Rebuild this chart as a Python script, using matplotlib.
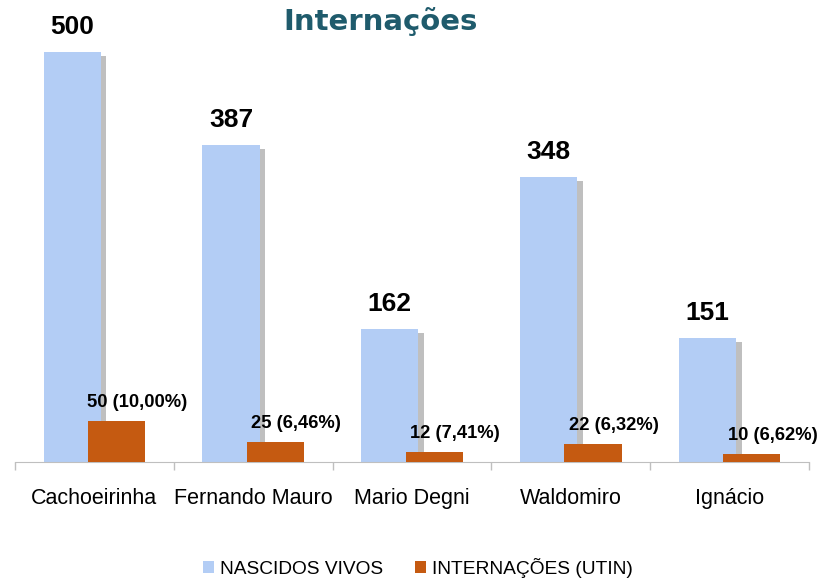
import numpy as np
import matplotlib
matplotlib.use("Agg")
import matplotlib.pyplot as plt
import matplotlib.patheffects as pe
from matplotlib.ticker import FixedLocator

unidades = ["Cachoeirinha", "Fernando Mauro", "Mario Degni", "Waldomiro", "Ignácio"]
nascidos_vivos = [500, 387, 162, 348, 151]
internacoes = [50, 25, 12, 22, 10]
rotulos_internacoes = ["50 (10,00%)", "25 (6,46%)", "12 (7,41%)", "22 (6,32%)", "10 (6,62%)"]

AZUL = "#b3cdf5"
LARANJA = "#c55a11"
CINZA = "#bfbfbf"
FONTE = ["Liberation Sans", "DejaVu Sans"]

fig = plt.figure(figsize=(8.19, 5.82), dpi=100)
ax = fig.add_axes([15 / 819, 120 / 582, 794 / 819, 459 / 582])

x = np.arange(len(unidades))
larg = 0.36
desloc = 0.14

barras_azuis = ax.bar(x - desloc, nascidos_vivos, larg, color=AZUL, zorder=2,
                      label="NASCIDOS VIVOS")
barras_lar = ax.bar(x + desloc, internacoes, larg, color=LARANJA, zorder=3,
                    label="INTERNAÇÕES (UTIN)")

for xi, v in zip(x, nascidos_vivos):
    ax.annotate(str(v), (xi - desloc, v), xytext=(0, 13), textcoords="offset points",
                ha="center", va="baseline", fontsize=19, fontweight="bold", family=FONTE)
for xi, v, txt in zip(x, internacoes, rotulos_internacoes):
    ax.annotate(txt, (xi + desloc, v), xytext=(15, 10), textcoords="offset points",
                ha="center", va="baseline", fontsize=13.2, fontweight="bold", family=FONTE)

ax.set_xlim(-0.5, len(unidades) - 0.5)
ax.set_ylim(0, 560)
ax.set_xticks(x)
ax.set_xticklabels(unidades, fontsize=15.5, family=FONTE)
ax.tick_params(axis="x", which="major", length=0, pad=19)
ax.xaxis.set_minor_locator(FixedLocator(np.arange(len(unidades) + 1) - 0.5))
ax.tick_params(axis="x", which="minor", length=6, color=CINZA, width=1)
ax.set_yticks([])
for s in ["top", "right", "left"]:
    ax.spines[s].set_visible(False)
ax.spines["bottom"].set_color(CINZA)

fig.text(381 / 819, 1 - 22 / 582, "Internações", ha="center", va="center",
         fontsize=21, fontweight="bold", color="#1f5b6c", family="DejaVu Sans")

fig.legend(handles=[barras_azuis, barras_lar], loc="center", ncol=2,
           bbox_to_anchor=(418 / 819, 1 - 568 / 582), frameon=False,
           handlelength=0.6, handleheight=0.6, handletextpad=0.3, columnspacing=1.65,
           prop={"family": FONTE, "size": 13.8})

# sombra cinza à direita das barras azuis (depois da legenda)
for b in barras_azuis:
    b.set_path_effects([pe.SimplePatchShadow(offset=(4, -3), shadow_rgbFace="#808080", alpha=0.5),
                        pe.Normal()])

fig.savefig("out.png", dpi=100)
